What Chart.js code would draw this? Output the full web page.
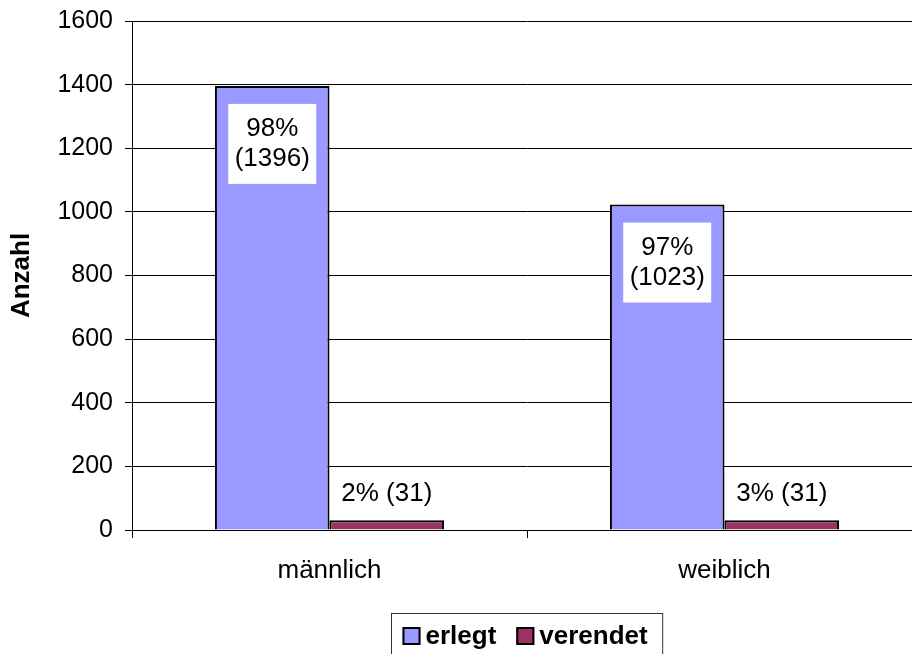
<!DOCTYPE html>
<html>
<head>
<meta charset="utf-8">
<script src="https://cdn.jsdelivr.net/npm/chart.js@4/dist/chart.umd.min.js"></script>
<style>
  html, body { margin: 0; padding: 0; overflow: hidden; background: #fff; }
  #wrap { width: 912px; height: 654px; overflow: hidden; }
</style>
</head>
<body>
<div id="wrap"><canvas id="chart" width="922" height="654"></canvas></div>
<script>
const categories = ["männlich", "weiblich"];
const erlegt = [1396, 1023];
const verendet = [31, 31];
const erlegtPct = ["98%", "97%"];
const verendetPct = ["2%", "3%"];
const seriesNames = ["erlegt", "verendet"];
const seriesColors = ["#9999FF", "#993366"];
const yMax = 1600;
const yStep = 200;

const FONT = "Arial, 'Liberation Sans', sans-serif";

// labels on the bars: white box in the big bars, plain text above the small ones
const barLabels = {
  id: "barLabels",
  afterDatasetsDraw(chart) {
    const ctx = chart.ctx;
    ctx.save();
    ctx.font = "26px " + FONT;
    ctx.textAlign = "center";
    ctx.textBaseline = "middle";
    chart.getDatasetMeta(0).data.forEach((bar, i) => {
      const lines = [erlegtPct[i], "(" + erlegt[i] + ")"];
      const w = 88, h = 80;
      const top = bar.y + 18;
      ctx.fillStyle = "#fff";
      ctx.fillRect(bar.x - w / 2, top, w, h);
      ctx.fillStyle = "#000";
      ctx.fillText(lines[0], bar.x, top + 25);
      ctx.fillText(lines[1], bar.x, top + 55);
    });
    chart.getDatasetMeta(1).data.forEach((bar, i) => {
      ctx.fillStyle = "#000";
      ctx.fillText(verendetPct[i] + " (" + verendet[i] + ")", bar.x, bar.y - 26);
    });
    ctx.restore();
  }
};

// legend box centred under the plot area
const boxLegend = {
  id: "boxLegend",
  afterDraw(chart) {
    const ctx = chart.ctx;
    const area = chart.chartArea;
    ctx.save();
    ctx.font = "bold 26px " + FONT;
    const sw = 18, gap = 5, itemGap = 20, padL = 11, padR = 15;
    const widths = seriesNames.map(n => ctx.measureText(n).width);
    const total = padL + padR + widths.reduce((a, w) => a + sw + gap + w, 0) + itemGap * (seriesNames.length - 1);
    const left = Math.round((area.left + area.right) / 2 - total / 2) + 0.5;
    const top = 613.5;
    ctx.strokeStyle = "#333";
    ctx.lineWidth = 1;
    ctx.strokeRect(left, top, total, 60);
    let x = left + padL;
    const cy = 636;
    ctx.textBaseline = "middle";
    ctx.textAlign = "left";
    seriesNames.forEach((n, i) => {
      ctx.fillStyle = seriesColors[i];
      ctx.fillRect(x, cy - sw / 2, sw, sw);
      ctx.strokeStyle = "#000";
      ctx.lineWidth = 2;
      ctx.strokeRect(x + 1, cy - sw / 2 + 1, sw - 2, sw - 2);
      ctx.fillStyle = "#000";
      ctx.fillText(n, x + sw + gap, cy + 1);
      x += sw + gap + widths[i] + itemGap;
    });
    ctx.restore();
  }
};

const noScalePadding = s => {
  s.paddingTop = 0;
  s.paddingBottom = 0;
  s.paddingLeft = 0;
  s.paddingRight = 0;
};

new Chart(document.getElementById("chart"), {
  type: "bar",
  data: {
    labels: categories,
    datasets: [
      { label: seriesNames[0], data: erlegt, backgroundColor: seriesColors[0], borderColor: "#000", borderWidth: 2 },
      { label: seriesNames[1], data: verendet, backgroundColor: seriesColors[1], borderColor: "#000", borderWidth: 2 }
    ]
  },
  options: {
    responsive: false,
    animation: false,
    categoryPercentage: 0.58,
    barPercentage: 1.0,
    layout: { padding: { top: 21, right: 0, left: 0, bottom: 0 } },
    plugins: {
      legend: { display: false },
      tooltip: { enabled: false }
    },
    scales: {
      x: {
        grid: { offset: true, drawOnChartArea: false, tickLength: 8, color: "#000" },
        border: { color: "#000", width: 1 },
        ticks: { font: { family: FONT, size: 26 }, color: "#000", padding: 17 },
        afterFit(s) { s.height = 124; noScalePadding(s); }
      },
      y: {
        min: 0,
        max: yMax,
        ticks: { stepSize: yStep, font: { family: FONT, size: 25 }, color: "#000", padding: 12, callback: v => String(v) },
        grid: { color: "#000", lineWidth: 1, tickLength: 7 },
        border: { color: "#000", width: 1 },
        title: { display: true, text: "Anzahl", font: { family: FONT, size: 26, weight: "bold" }, color: "#000", padding: { top: 6, bottom: 0 } },
        afterFit(s) { s.width = 132; noScalePadding(s); }
      }
    }
  },
  plugins: [barLabels, boxLegend]
});
</script>
</body>
</html>
